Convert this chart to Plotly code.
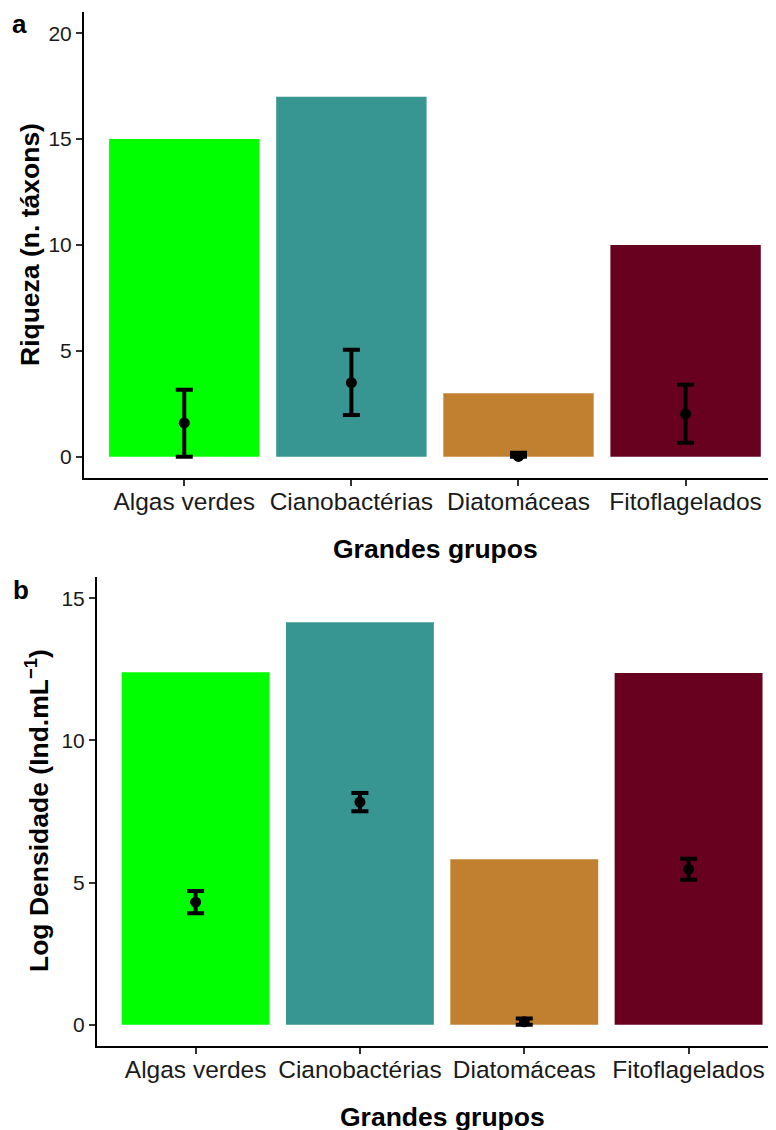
import plotly.graph_objects as go

# The page body has an 8px margin: target pixel p maps to figure pixel p - 8
OFF = 8
W, H = 776 - OFF, 1130 - OFF

groups = ["Algas verdes", "Cianobactérias", "Diatomáceas", "Fitoflagelados"]
colors = ["#00FF00", "#379691", "#C08030", "#680020"]

# Panel a: Riqueza (n. táxons)
riqueza_total = [15, 17, 3, 10]
riqueza_media = [1.6, 3.5, 0.02, 2.03]
riqueza_erro_sup = [1.57, 1.55, 0.17, 1.37]
riqueza_erro_inf = [1.6, 1.52, 0.02, 1.37]

# Panel b: Log Densidade
dens_total = [12.4, 14.16, 5.82, 12.37]
dens_media = [4.31, 7.83, 0.1, 5.47]
dens_erro_sup = [0.39, 0.32, 0.12, 0.37]
dens_erro_inf = [0.39, 0.32, 0.1, 0.37]

yticks_a = [0, 5, 10, 15, 20]
yticks_b = [0, 5, 10, 15]

FONT = "Liberation Sans, Arial, sans-serif"


def px_x(p):
    return (p - OFF) / W


def px_y(p):
    return 1 - (p - OFF) / H


fig = go.Figure()

fig.add_trace(go.Bar(x=groups, y=riqueza_total, marker=dict(color=colors, line=dict(width=0)),
                     width=0.9, xaxis="x", yaxis="y", showlegend=False, hoverinfo="skip"))
fig.add_trace(go.Scatter(x=groups, y=riqueza_media, mode="markers",
                         marker=dict(color="black", size=11),
                         error_y=dict(type="data", symmetric=False, array=riqueza_erro_sup,
                                      arrayminus=riqueza_erro_inf, color="black", thickness=4, width=8.5),
                         xaxis="x", yaxis="y", showlegend=False))

fig.add_trace(go.Bar(x=groups, y=dens_total, marker=dict(color=colors, line=dict(width=0)),
                     width=0.9, xaxis="x2", yaxis="y2", showlegend=False, hoverinfo="skip"))
fig.add_trace(go.Scatter(x=groups, y=dens_media, mode="markers",
                         marker=dict(color="black", size=11),
                         error_y=dict(type="data", symmetric=False, array=dens_erro_sup,
                                      arrayminus=dens_erro_inf, color="black", thickness=4, width=8.5),
                         xaxis="x2", yaxis="y2", showlegend=False))

xcommon = dict(type="category", showline=True, linecolor="black", linewidth=2,
               ticks="outside", ticklen=6, tickwidth=1.5, tickcolor="#333333",
               tickfont=dict(family=FONT, size=24.5, color="#1a1a1a"), ticklabelstandoff=-5,
               showgrid=False, zeroline=False, fixedrange=True)
ycommon = dict(showline=True, linecolor="black", linewidth=2,
               ticks="outside", ticklen=6, tickwidth=1.5, tickcolor="#333333",
               tickfont=dict(family=FONT, size=21, color="#1a1a1a"),
               showgrid=False, zeroline=False, fixedrange=True)

fig.update_layout(
    width=W, height=H,
    margin=dict(l=0, r=0, t=0, b=0),
    paper_bgcolor="white", plot_bgcolor="white",
    xaxis=dict(xcommon, domain=[px_x(84), 1], anchor="y", range=[-0.6, 3.541]),
    yaxis=dict(ycommon, domain=[px_y(478), px_y(12)], anchor="x", range=[-1, 21],
               tickvals=yticks_a),
    xaxis2=dict(xcommon, domain=[px_x(97), 1], anchor="y2", range=[-0.6, 3.532]),
    yaxis2=dict(ycommon, domain=[px_y(1046), px_y(577)], anchor="x2", range=[-0.75, 15.75],
                tickvals=yticks_b),
)


def ann(text, x, y, size, angle=0):
    fig.add_annotation(text=text, x=px_x(x), y=px_y(y), xref="paper", yref="paper",
                       xanchor="center", yanchor="middle", showarrow=False, textangle=angle,
                       font=dict(family=FONT, size=size, color="black"))


ann("<b>a</b>", 19, 24, 26)
ann("<b>b</b>", 21, 590, 26)
ann("<b>Riqueza (n. táxons)</b>", 30, 245, 26.5, -90)
ann("<b>Log Densidade (Ind.mL<sup>−1</sup>)</b>", 37, 811, 26.5, -90)
ann("<b>Grandes grupos</b>", 435, 549, 26.5)
ann("<b>Grandes grupos</b>", 442, 1117, 26.5)

fig.write_html("out.html")
